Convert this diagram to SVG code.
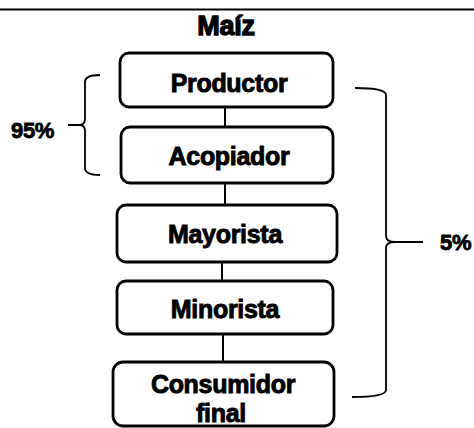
<svg xmlns="http://www.w3.org/2000/svg" width="474" height="428" viewBox="0 0 474 428">
<style>
.box{fill:#fff;stroke:#000;stroke-width:2.8}
.lbl{font-family:"Liberation Sans",Arial,sans-serif;font-weight:bold;font-size:25px;text-anchor:middle;fill:#000;stroke:#000;stroke-width:0.9;letter-spacing:-0.3px}
.pct{font-family:"Liberation Sans",Arial,sans-serif;font-weight:bold;font-size:22px;fill:#000;stroke:#000;stroke-width:0.8;letter-spacing:-0.3px}
.conn{stroke:#000;stroke-width:2;fill:none}
.brace{stroke:#000;stroke-width:1.8;fill:none}
</style>
<rect width="474" height="428" fill="#fff"/>
<line x1="0" y1="9.5" x2="474" y2="9.5" stroke="#000" stroke-width="2"/>
<text x="226" y="35" class="lbl" style="font-size:27px;stroke-width:1.3">Maíz</text>
<g id="connectors">
<line class="conn" x1="225" y1="107" x2="225" y2="127"/>
<line class="conn" x1="225" y1="183" x2="225" y2="205"/>
<line class="conn" x1="222" y1="262" x2="222" y2="281"/>
<line class="conn" x1="223" y1="334" x2="223" y2="362"/>
</g>
<g id="productor">
<rect class="box" x="120" y="53" width="213" height="54" rx="9"/>
<text class="lbl" x="229" y="92">Productor</text>
</g>
<g id="acopiador">
<rect class="box" x="121" y="127" width="212" height="56" rx="9"/>
<text class="lbl" x="229" y="165">Acopiador</text>
</g>
<g id="mayorista">
<rect class="box" x="117" y="205" width="220" height="57" rx="9"/>
<text class="lbl" x="225" y="243">Mayorista</text>
</g>
<g id="minorista">
<rect class="box" x="117" y="281" width="216" height="53" rx="9"/>
<text class="lbl" x="225" y="318">Minorista</text>
</g>
<g id="consumidor">
<rect class="box" x="113" y="362" width="221" height="64" rx="10"/>
<text class="lbl" x="223" y="393">Consumidor</text>
<text class="lbl" x="221" y="422">final</text>
</g>
<g id="brace95">
<path class="brace" d="M100,75 Q85,75 85,82 L85,119 Q85,125 79,125 L68,125 M79,125 Q85,125 85,131 L85,168 Q85,175 100,175"/>
<text class="pct" x="11" y="138">95%</text>
</g>
<g id="brace5">
<path class="brace" d="M355,88 Q386,88 386,95 L386,236 Q386,242 395,242 L423,242 M395,242 Q386,242 386,248 L386,390 Q386,397 352,397"/>
<text class="pct" x="440" y="250">5%</text>
</g>
</svg>
